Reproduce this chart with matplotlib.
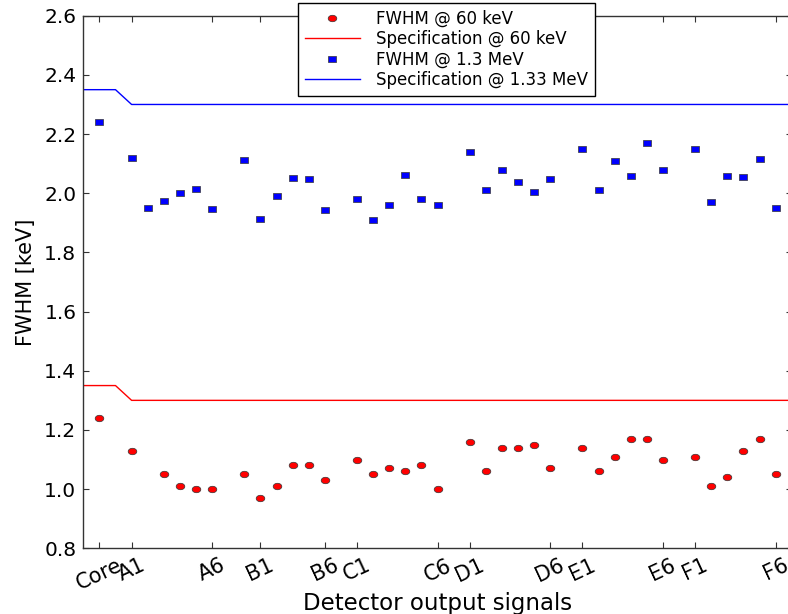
import numpy as np
import matplotlib
matplotlib.use("Agg")
import matplotlib.pyplot as plt
from matplotlib.path import Path
from matplotlib.transforms import Affine2D

# Detector channels: core contact followed by six segments in each of six rings
rings = ["A", "B", "C", "D", "E", "F"]
channels_per_ring = 6

# FWHM at 60 keV (Am-241 line); A2 has no measurement
fwhm_60kev_core = 1.24
fwhm_60kev = {
    "A": [1.13, np.nan, 1.05, 1.01, 1.00, 1.00],
    "B": [1.05, 0.97, 1.01, 1.08, 1.08, 1.03],
    "C": [1.10, 1.05, 1.07, 1.06, 1.08, 1.00],
    "D": [1.16, 1.06, 1.14, 1.14, 1.15, 1.07],
    "E": [1.14, 1.06, 1.11, 1.17, 1.17, 1.10],
    "F": [1.11, 1.01, 1.04, 1.13, 1.17, 1.05],
}

# FWHM at 1.3 MeV (Co-60 line)
fwhm_13mev_core = 2.24
fwhm_13mev = {
    "A": [2.12, 1.95, 1.975, 2.00, 2.015, 1.947],
    "B": [2.112, 1.914, 1.992, 2.052, 2.047, 1.944],
    "C": [1.98, 1.91, 1.96, 2.06, 1.98, 1.96],
    "D": [2.14, 2.01, 2.08, 2.037, 2.003, 2.049],
    "E": [2.15, 2.01, 2.11, 2.057, 2.17, 2.08],
    "F": [2.15, 1.969, 2.059, 2.055, 2.115, 1.95],
}

# Specification limits: core contact and segments
spec_60kev_core, spec_60kev_seg = 1.35, 1.30
spec_133mev_core, spec_133mev_seg = 2.35, 2.30

# Labelled ticks on the channel axis
tick_positions = [0, 2, 7, 10, 14, 16, 21, 23, 28, 30, 35, 37, 42]
tick_labels = ["Core", "A1", "A6", "B1", "B6", "C1", "C6",
               "D1", "D6", "E1", "E6", "F1", "F6"]

# Channel positions: core at 0, rings separated by one empty slot
x_core = 0
x_seg = {r: [2 + 7 * i + k for k in range(channels_per_ring)]
         for i, r in enumerate(rings)}

x_all = [x_core] + [x for r in rings for x in x_seg[r]]
y60_all = [fwhm_60kev_core] + [v for r in rings for v in fwhm_60kev[r]]
y13_all = [fwhm_13mev_core] + [v for r in rings for v in fwhm_13mev[r]]

xmin, xmax = -1, 43
spec_x = [xmin, x_core + 1, x_core + 2, xmax]
spec_60 = [spec_60kev_core, spec_60kev_core, spec_60kev_seg, spec_60kev_seg]
spec_133 = [spec_133mev_core, spec_133mev_core, spec_133mev_seg, spec_133mev_seg]

# Slightly wide marker shapes
ellipse = Affine2D().scale(1.0, 0.75).transform_path(Path.unit_circle())
wide_square = Path([(-1, -0.75), (1, -0.75), (1, 0.75), (-1, 0.75), (-1, -0.75)],
                   [Path.MOVETO, Path.LINETO, Path.LINETO, Path.LINETO, Path.CLOSEPOLY])

fig = plt.figure(figsize=(7.88, 6.14), dpi=100)
fig.patch.set_facecolor("white")
W, H = 788.0, 614.0
ax = fig.add_axes([83.3 / W, 65.7 / H, 708.4 / W, 532.6 / H])

ax.plot(x_all, y60_all, linestyle="none", marker=ellipse, markersize=6.2,
        markerfacecolor="red", markeredgecolor="#333333", markeredgewidth=0.5,
        label="FWHM @ 60 keV")
ax.plot(spec_x, spec_60, color="red", linewidth=1.0,
        label="Specification @ 60 keV")
ax.plot(x_all, y13_all, linestyle="none", marker=wide_square, markersize=6.2,
        markerfacecolor="blue", markeredgecolor="#333333", markeredgewidth=0.5,
        label="FWHM @ 1.3 MeV")
ax.plot(spec_x, spec_133, color="blue", linewidth=1.0,
        label="Specification @ 1.33 MeV")

ax.set_xlim(xmin, xmax)
ax.set_ylim(0.8, 2.6)
ax.set_yticks(np.arange(0.8, 2.61, 0.2))
ax.set_yticklabels([f"{v:.1f}" for v in np.arange(0.8, 2.61, 0.2)])
ax.set_xticks(tick_positions)
ax.set_xticklabels(tick_labels, rotation=25, ha="center")

ax.tick_params(axis="both", which="major", direction="in", top=True, right=True,
               length=4, width=0.8, color="#333333", pad=5)
ax.tick_params(axis="y", labelsize=14.5)
ax.tick_params(axis="x", labelsize=15)
for s in ax.spines.values():
    s.set_linewidth(1.0)
    s.set_color("#333333")

ax.set_xlabel("Detector output signals", fontsize=16.5, labelpad=-1)
ax.set_ylabel("FWHM [keV]", fontsize=15, labelpad=6)

leg = ax.legend(loc="upper center", bbox_to_anchor=(446.5 / W, 1 - 3 / H),
                bbox_transform=fig.transFigure, numpoints=1, fontsize=12,
                fancybox=False, frameon=True, framealpha=1.0, borderpad=0.4,
                labelspacing=0.15, handlelength=3.3, handletextpad=1.0,
                borderaxespad=0.0)
leg.get_frame().set_edgecolor("black")
leg.get_frame().set_linewidth(1.0)

fig.savefig("out.png", dpi=100, facecolor="white")
